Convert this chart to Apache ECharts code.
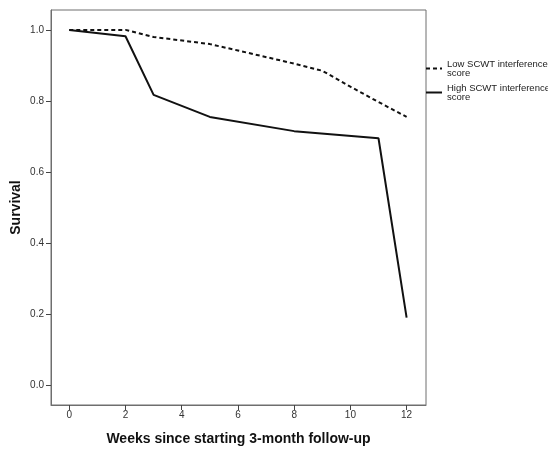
<!DOCTYPE html>
<html>
<head>
<meta charset="utf-8">
<script src="https://cdn.jsdelivr.net/npm/echarts@6/dist/echarts.min.js"></script>
<style>
  html, body { margin: 0; padding: 0; background: #fff; }
  #chart { width: 548px; height: 449px; }
</style>
</head>
<body>
<div id="chart"></div>
<script>
// weeks since start of follow-up
const lowWeeks = [0, 2, 3, 5, 6, 8, 9, 10, 11, 12];
const lowSurvival = [1.0, 1.0, 0.98, 0.96, 0.942, 0.905, 0.885, 0.84, 0.797, 0.755];
const highWeeks = [0, 2, 3, 5, 8, 11, 12];
const highSurvival = [1.0, 0.982, 0.817, 0.755, 0.715, 0.695, 0.19];
const seriesNames = ['Low SCWT interference\nscore', 'High SCWT interference\nscore'];
const yTicks = [0, 0.2, 0.4, 0.6, 0.8, 1.0];
const xTicks = [0, 2, 4, 6, 8, 10, 12];

const toPairs = (xs, ys) => xs.map((x, i) => [x, ys[i]]);

const chart = echarts.init(document.getElementById('chart'));

const axisColor = '#6e6e6e';
const option = {
  animation: false,
  backgroundColor: '#fff',
  textStyle: { fontFamily: 'Liberation Sans, Arial, sans-serif' },
  grid: {
    left: 51, right: 122, top: 10, bottom: 44,
    outerBoundsMode: 'none',
    show: true, borderColor: axisColor, borderWidth: 1
  },
  legend: {
    orient: 'vertical',
    left: 425, top: 59,
    padding: 0,
    itemWidth: 16, itemHeight: 8, itemGap: 5,
    itemStyle: { opacity: 0 },
    textStyle: { fontSize: 9.5, color: '#222', lineHeight: 9 },
    data: seriesNames
  },
  xAxis: {
    type: 'value',
    min: -0.65, max: 12.69,
    name: 'Weeks since starting 3-month follow-up',
    nameLocation: 'middle', nameGap: 27, nameMoveOverlap: false,
    nameTextStyle: { fontSize: 14, fontWeight: 'bold', color: '#111' },
    axisLine: { show: true, onZero: false, lineStyle: { color: axisColor } },
    axisTick: { show: true, length: 5, customValues: xTicks, lineStyle: { color: '#444' } },
    axisLabel: { customValues: xTicks, fontSize: 10, color: '#333', margin: 5 },
    splitLine: { show: false }
  },
  yAxis: {
    type: 'value',
    min: -0.056, max: 1.056,
    name: 'Survival',
    nameLocation: 'middle', nameGap: 28, nameRotate: 90, nameMoveOverlap: false,
    nameTextStyle: { fontSize: 14, fontWeight: 'bold', color: '#111' },
    axisLine: { show: true, onZero: false, lineStyle: { color: axisColor } },
    axisTick: { show: true, length: 5, customValues: yTicks, lineStyle: { color: '#444' } },
    axisLabel: {
      customValues: yTicks, fontSize: 10, color: '#333', margin: 7,
      formatter: (v) => v.toFixed(1)
    },
    splitLine: { show: false }
  },
  series: [
    {
      name: seriesNames[0],
      type: 'line',
      data: toPairs(lowWeeks, lowSurvival),
      symbol: 'none',
      color: '#111',
      lineStyle: { color: '#111', width: 2, type: [4, 3] }
    },
    {
      name: seriesNames[1],
      type: 'line',
      data: toPairs(highWeeks, highSurvival),
      symbol: 'none',
      color: '#111',
      lineStyle: { color: '#111', width: 2 }
    }
  ]
};

chart.setOption(option);
</script>
</body>
</html>
